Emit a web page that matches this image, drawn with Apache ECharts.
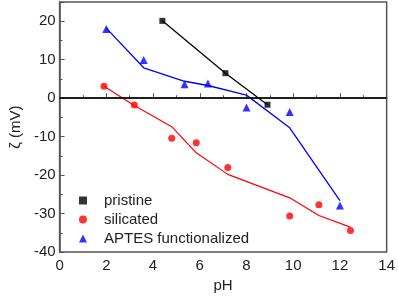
<!DOCTYPE html>
<html>
<head>
<meta charset="utf-8">
<script src="https://cdn.jsdelivr.net/npm/echarts@6/dist/echarts.min.js"></script>
<style>
  html, body { margin: 0; padding: 0; background: #fff; }
  #chart { width: 398px; height: 298px; }
</style>
</head>
<body>
<div id="chart"></div>
<script>
// measured points (pH, zeta potential in mV)
const pristinePH = [4.4, 7.1, 8.9];
const pristineZeta = [20.1, 6.5, -1.7];

const silicatedPH = [1.9, 3.2, 4.8, 5.85, 7.2, 9.85, 11.1, 12.45];
const silicatedZeta = [3.1, -1.8, -10.4, -11.6, -18.0, -30.6, -27.7, -34.4];
const silicatedFit = [3.1, -1.9, -7.4, -14.2, -19.8, -25.9, -30.5, -33.5];

const aptesPH = [2.0, 3.6, 5.35, 6.35, 8.0, 9.85, 12.0];
const aptesZeta = [18.0, 9.9, 3.6, 3.8, -2.4, -3.6, -27.9];
const aptesFit = [18.2, 7.9, 4.4, 3.3, 0.8, -7.7, -26.6];

const xTicks = [0, 2, 4, 6, 8, 10, 12, 14];
const yTicks = [-40, -30, -20, -10, 0, 10, 20];

const zip = (xs, ys) => xs.map((x, i) => [x, ys[i]]);

const chart = echarts.init(document.getElementById("chart"));
const font = "Liberation Sans, Arial, sans-serif";
const axisColor = "#555";

const option = {
  animation: false,
  textStyle: { fontFamily: font },
  grid: {
    left: 49, right: 9, top: 2, bottom: 41,
    show: true, borderColor: axisColor, borderWidth: 1.5
  },
  legend: {
    orient: "vertical",
    left: 74, top: 188,
    itemWidth: 8, itemHeight: 8, itemGap: 4,
    textStyle: { fontSize: 15, color: "#222", fontFamily: font, lineHeight: 15, padding: [0, 0, 0, 12] },
    data: [
      { name: "pristine", icon: "rect", itemStyle: { color: "#000" } },
      { name: "silicated", icon: "circle" },
      { name: "APTES functionalized", icon: "triangle" }
    ]
  },
  xAxis: {
    type: "value", min: 0, max: 14, interval: 2,
    name: "pH", nameLocation: "middle", nameGap: 22,
    nameTextStyle: { fontSize: 15, color: "#222", fontFamily: font },
    axisLine: { lineStyle: { color: axisColor, width: 1.5 } },
    axisTick: { inside: true, length: 5, lineStyle: { color: axisColor } },
    minorTick: { show: true, splitNumber: 2, length: 3, lineStyle: { color: axisColor } },
    axisLabel: { fontSize: 15, color: "#222", margin: 6, customValues: xTicks },
    splitLine: { show: false }
  },
  yAxis: [
    {
      type: "value", min: -40, max: 25, interval: 10,
      name: "ζ (mV)", nameLocation: "middle", nameGap: 30,
      nameTextStyle: { fontSize: 15, color: "#222", fontFamily: font },
      axisLine: { show: true, lineStyle: { color: axisColor, width: 1.5 } },
      axisTick: { inside: true, length: 5, lineStyle: { color: axisColor } },
      axisLabel: { fontSize: 15, color: "#222", margin: 4, customValues: yTicks },
      splitLine: { show: false }
    },
    {
      // minor ticks every 5 mV
      type: "value", min: -40, max: 25, interval: 5, position: "left",
      axisLine: { show: false },
      axisTick: { show: true, inside: true, length: 3, lineStyle: { color: axisColor } },
      axisLabel: { show: false },
      splitLine: { show: false }
    }
  ],
  series: [
    {
      name: "zero", type: "line", data: [], silent: true,
      markLine: {
        silent: true, symbol: "none", label: { show: false },
        lineStyle: { color: "#000", width: 1.5, type: "solid" },
        data: [{ yAxis: 0 }]
      }
    },
    {
      name: "pristine line", type: "line", data: zip(pristinePH, pristineZeta),
      showSymbol: false, lineStyle: { color: "#000", width: 1.3 }
    },
    {
      name: "silicated fit", type: "line", data: zip(silicatedPH, silicatedFit),
      showSymbol: false, lineStyle: { color: "#ff0000", width: 1.2 }
    },
    {
      name: "APTES fit", type: "line", data: zip(aptesPH, aptesFit),
      showSymbol: false, lineStyle: { color: "#0000ff", width: 1.3 }
    },
    {
      name: "pristine", type: "scatter", data: zip(pristinePH, pristineZeta),
      symbol: "rect", symbolSize: 6, itemStyle: { color: "#000" }
    },
    {
      name: "silicated", type: "scatter", data: zip(silicatedPH, silicatedZeta),
      symbol: "circle", symbolSize: 7, itemStyle: { color: "#ff0000" }
    },
    {
      name: "APTES functionalized", type: "scatter", data: zip(aptesPH, aptesZeta),
      symbol: "triangle", symbolSize: 8, itemStyle: { color: "#0000ff" }
    }
  ]
};

chart.setOption(option);
window.addEventListener("resize", () => chart.resize());
</script>
</body>
</html>
